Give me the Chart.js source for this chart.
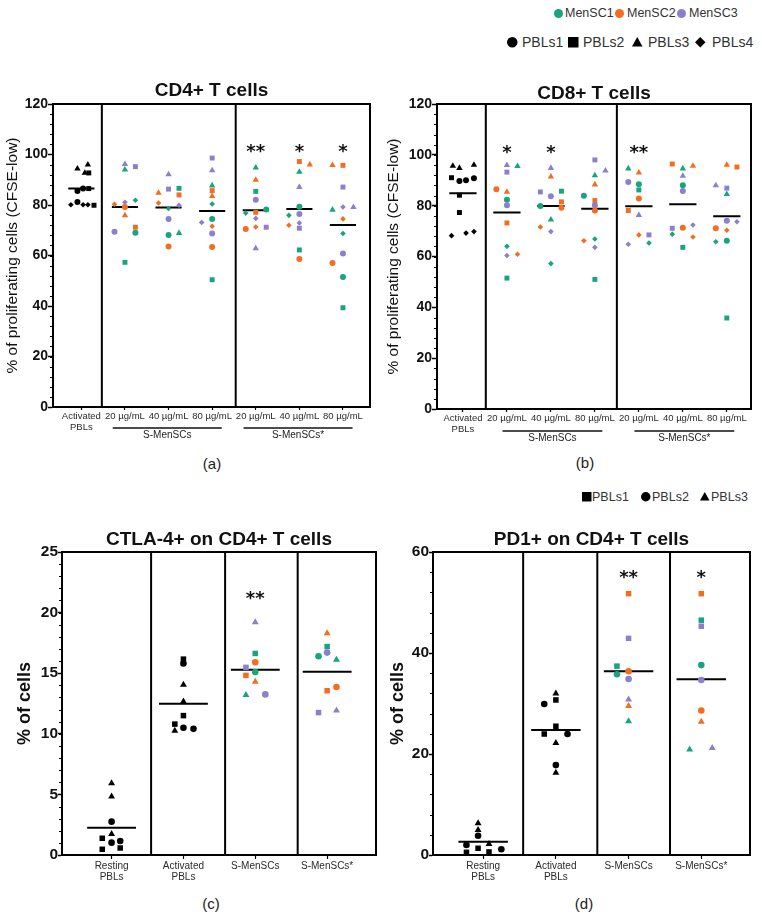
<!DOCTYPE html>
<html>
<head>
<meta charset="utf-8">
<title>MenSCs: proliferation and checkpoint markers</title>
<script src="https://cdn.jsdelivr.net/npm/chart.js@4.4.1/dist/chart.umd.min.js"></script>
<style>
  body { margin: 0; width: 762px; height: 917px; position: relative; overflow: hidden; background: #fff;
         font-family: "Liberation Sans", Arial, sans-serif; color: #222; }
  canvas { position: absolute; }
  .cap { position: absolute; font-size: 15px; transform: translate(-50%, -50%); }
  .leg { position: absolute; white-space: nowrap; color: #333; }
  svg.mk { position: absolute; overflow: visible; }
</style>
</head>
<body>
<canvas id="panelA" width="380" height="380" style="left:0;top:70px"></canvas>
<canvas id="panelB" width="382" height="380" style="left:380px;top:70px"></canvas>
<canvas id="panelC" width="380" height="380" style="left:0;top:510px"></canvas>
<canvas id="panelD" width="382" height="380" style="left:380px;top:510px"></canvas>
<div class="cap" style="left:212px;top:463px">(a)</div>
<div class="cap" style="left:585px;top:462px">(b)</div>
<div class="cap" style="left:211px;top:903px">(c)</div>
<div class="cap" style="left:584px;top:903px">(d)</div>
<div id="legends"></div>
<script>
/* global Chart */

const FONT = "'Liberation Sans', Arial, sans-serif";
const COLORS = { k: "#000000", t: "#17a47f", o: "#f36d21", p: "#8b80cc" };
const SHAPES = { c: "circle", s: "rect", t: "triangle", d: "rectRot" };

// legends
const mscLabels = ["MenSC1", "MenSC2", "MenSC3"];
const donorLabels = ["PBLs1", "PBLs2", "PBLs3", "PBLs4"];
const pd1DonorLabels = ["PBLs1", "PBLs2", "PBLs3"];

// (a) and (b): proliferation
const prolifGroups = ["Activated|PBLs", "20 µg/mL", "40 µg/mL", "80 µg/mL", "20 µg/mL", "40 µg/mL", "80 µg/mL"];
const prolifBrackets = [{ label: "S-MenSCs", from: 1, to: 3 }, { label: "S-MenSCs*", from: 4, to: 6 }];

// each point: [value, MenSC colour, donor shape, jitter (category units)]
const cd4Points = [
    [[94.4,"k","t",-0.09],[96.0,"k","t",0.15],[92.7,"k","t",0.08],[92.7,"k","s",0.17],[86.5,"k","s",0.17],[79.9,"k","s",0.29],
     [85.5,"k","c",-0.09],[86.5,"k","c",0.04],[81.2,"k","c",-0.09],[80.1,"k","d",-0.24],[80.1,"k","d",0.04],[80.1,"k","d",0.15]],
    [[96.2,"p","t",0],[94.0,"t","t",0],[95.2,"p","s",0.24],[80.3,"o","d",-0.24],[81.1,"p","d",0],[81.9,"t","d",0.24],
     [79.2,"o","c",0],[75.9,"o","t",0],[69.4,"p","c",-0.24],[71.2,"o","s",0.24],[69.0,"t","c",0.24],[57.3,"t","s",0]],
    [[92.1,"p","t",0],[84.8,"o","t",-0.23],[86.3,"p","s",0],[86.6,"t","s",0.24],[84.0,"o","s",0.24],[80.8,"o","d",-0.23],
     [79.9,"p","d",0.24],[78.6,"t","d",0],[74.5,"p","c",0],[68.1,"t","c",0],[68.9,"t","t",0.24],[63.6,"o","c",0]],
    [[98.6,"p","s",0],[93.7,"p","t",0],[87.7,"t","t",0],[85.7,"o","s",0],[83.5,"o","t",0],[80.4,"t","d",0],
     [73.1,"p","d",-0.24],[74.5,"t","c",0],[71.6,"o","d",0],[68.7,"p","c",0],[63.4,"o","c",0],[50.4,"t","s",0]],
    [[94.8,"t","t",0],[89.9,"o","t",0],[85.4,"t","s",0],[82.1,"p","c",0],[77.1,"o","s",0],[76.8,"t","d",-0.23],
     [78.2,"t","c",0.24],[71.2,"p","s",0.24],[74.7,"p","d",0],[71.3,"o","d",0],[70.5,"o","c",-0.23],[62.8,"p","t",0]],
    [[97.2,"o","s",0],[96.0,"o","t",0.24],[93.1,"t","t",0],[87.1,"p","t",0],[79.3,"t","c",0],[76.4,"p","c",0],
     [75.9,"t","d",-0.24],[72.9,"p","d",0],[72.0,"o","d",-0.24],[70.8,"p","s",0],[62.2,"t","s",0],[58.6,"o","c",0]],
    [[95.8,"o","t",-0.24],[95.7,"o","s",0],[87.1,"p","s",0],[78.1,"t","t",-0.24],[79.2,"p","d",0],[79.1,"p","t",0.24],
     [74.5,"o","d",0],[68.7,"t","d",0],[60.8,"p","c",0],[57.0,"o","c",-0.24],[51.5,"t","c",0],[39.3,"t","s",0]]
];
const cd4Median = [86.5, 79.2, 79.0, 77.6, 77.9, 78.4, 72.1];
const cd4Stars = ["", "", "", "", "**", "*", "*"];

const cd8Points = [
    [[95.6,"k","t",-0.23],[94.8,"k","t",-0.08],[96.0,"k","t",0.25],[91.0,"k","s",-0.26],[89.7,"k","c",-0.08],[90.0,"k","c",0.07],
     [90.8,"k","c",0.25],[84.1,"k","s",-0.08],[77.3,"k","s",-0.08],[68.2,"k","d",-0.26],[69.2,"k","d",0.07],[69.8,"k","d",0.25]],
    [[95.9,"p","t",0],[93.2,"p","s",0],[95.5,"t","t",0.24],[86.5,"o","c",-0.24],[85.4,"o","t",0],[82.3,"t","c",0],
     [80.2,"p","c",0],[73.2,"o","s",0],[64.0,"t","d",0],[60.4,"p","d",0],[60.9,"o","d",0.24],[51.5,"t","s",0]],
    [[94.8,"p","t",0],[91.4,"o","t",0],[85.4,"p","s",-0.24],[85.7,"t","s",0.24],[83.7,"p","c",0],[81.5,"o","s",0.24],
     [79.9,"t","c",-0.24],[79.2,"o","c",0.24],[74.5,"t","t",0],[71.6,"o","d",-0.24],[69.8,"p","d",0],[57.2,"t","d",0]],
    [[98.0,"p","s",0],[93.8,"p","t",0.24],[91.9,"t","t",0],[88.3,"o","t",0],[83.9,"t","c",-0.25],[82.0,"o","s",0],
     [80.2,"p","c",0],[78.1,"o","c",0],[66.2,"o","d",-0.25],[66.9,"t","d",0],[63.6,"p","d",0],[51.0,"t","s",0]],
    [[94.6,"t","t",-0.24],[93.0,"o","t",0],[89.3,"p","c",-0.24],[88.4,"t","c",0],[86.2,"t","s",0],[82.8,"o","c",0],
     [78.1,"o","s",-0.24],[76.3,"p","t",0],[68.5,"o","d",0],[68.5,"p","s",0.23],[64.8,"p","d",-0.24],[65.3,"t","d",0.23]],
    [[96.4,"o","s",-0.24],[94.6,"t","t",0],[95.6,"o","t",0.23],[91.7,"p","t",0],[88.0,"t","c",0],[85.8,"p","c",0],
     [71.1,"p","s",-0.24],[71.3,"o","c",0],[72.4,"p","d",0.23],[68.8,"t","d",-0.24],[67.7,"o","d",0.23],[63.6,"t","s",0]],
    [[96.0,"o","t",0],[95.2,"o","s",0.23],[88.0,"p","t",-0.25],[86.9,"p","s",0],[84.5,"t","t",0],[74.1,"p","c",0],
     [73.7,"p","d",0.23],[71.1,"o","c",-0.25],[70.3,"o","d",0],[65.8,"t","d",-0.25],[66.2,"t","c",0],[35.8,"t","s",0]]
];
const cd8Median = [84.9, 77.3, 79.9, 78.8, 79.8, 80.6, 75.8];
const cd8Stars = ["", "*", "*", "", "**", "", ""];

// (c) and (d): checkpoint markers
const markerGroups = ["Resting|PBLs", "Activated|PBLs", "S-MenSCs", "S-MenSCs*"];

const ctlaPoints = [
    [[5.93,"k","t",0],[4.82,"k","t",0],[2.75,"k","c",0],[1.74,"k","t",0],[1.38,"k","s",-0.13],[1.16,"k","c",0.12],
     [1.02,"k","c",0],[0.47,"k","s",-0.13],[0.58,"k","s",0.12]],
    [[16.16,"k","s",0],[15.8,"k","c",0],[14.05,"k","t",0],[12.67,"k","t",0],[11.5,"k","s",0],[10.8,"k","s",-0.12],
     [10.25,"k","t",-0.12],[10.5,"k","c",0],[10.41,"k","c",0.14]],
    [[19.2,"p","t",0],[16.63,"t","s",0],[15.9,"o","c",0],[15.48,"p","s",-0.13],[15.1,"t","c",0],[14.82,"o","s",-0.13],
     [14.3,"o","t",0],[13.2,"t","t",-0.13],[13.25,"p","c",0.14]],
    [[18.3,"o","t",0],[17.2,"t","s",0],[16.7,"p","c",0],[16.4,"t","c",-0.12],[16.1,"t","t",0.13],[13.86,"o","c",0.13],
     [13.55,"o","s",0],[11.75,"p","s",-0.12],[11.92,"p","t",0.13]]
];
const ctlaMedian = [2.25, 12.48, 15.29, 15.12];
const ctlaStars = ["", "", "**", ""];

const pd1Points = [
    [[6.28,"k","t",-0.07],[4.95,"k","t",-0.07],[3.82,"k","c",-0.07],[1.98,"k","c",-0.23],[2.18,"k","t",0.08],[1.33,"k","s",-0.07],
     [1.13,"k","c",0.25],[0.53,"k","s",-0.23],[0.6,"k","s",0.08]],
    [[32.0,"k","t",0],[30.7,"k","s",0],[29.9,"k","c",-0.16],[25.5,"k","s",0],[23.96,"k","s",-0.16],[23.96,"k","c",0.16],
     [22.2,"k","t",0],[17.8,"k","c",0],[16.3,"k","t",0]],
    [[51.75,"o","s",0],[42.9,"p","s",0],[37.4,"t","s",-0.16],[35.8,"t","c",-0.16],[36.4,"o","c",0],[34.85,"p","c",0],
     [30.8,"p","t",0],[29.5,"o","t",0],[26.5,"t","t",0]],
    [[51.75,"o","s",0],[46.5,"t","s",0],[45.3,"p","s",0],[37.6,"t","c",0],[34.65,"p","c",0],[28.6,"o","c",0],
     [26.4,"o","t",0],[20.9,"t","t",-0.16],[21.2,"p","t",0.15]]
];
const pd1Median = [2.64, 24.75, 36.4, 34.8];
const pd1Stars = ["", "", "**", "*"];

// frame, separators, minor ticks, significance stars and group brackets
const decor = {
    id: "decor",
    beforeDatasetsDraw(chart, args, o) {
        const { ctx, chartArea: a, scales: { x } } = chart;
        ctx.save();
        ctx.strokeStyle = "#000";
        ctx.lineWidth = 2;
        ctx.beginPath();
        ctx.moveTo(a.left, a.top);
        ctx.lineTo(a.right, a.top);
        ctx.lineTo(a.right, a.bottom);
        o.separators.forEach(v => {
            const px = x.getPixelForValue(v);
            ctx.moveTo(px, a.top);
            ctx.lineTo(px, a.bottom);
        });
        ctx.stroke();
        ctx.restore();
    },
    afterDraw(chart, args, o) {
        const { ctx, chartArea: a, scales: { x, y } } = chart;
        ctx.save();
        ctx.strokeStyle = "#000";
        ctx.lineWidth = 1;
        ctx.beginPath();
        for (let v = y.min; v <= y.max + 1e-9; v += o.minor) {
            const py = Math.round(y.getPixelForValue(v)) + 0.5;
            ctx.moveTo(a.left - 3, py);
            ctx.lineTo(a.left, py);
        }
        ctx.stroke();

        ctx.fillStyle = "#111";
        ctx.font = "bold 18px 'DejaVu Sans'";
        ctx.textAlign = "center";
        ctx.textBaseline = "middle";
        o.stars.forEach((s, i) => {
            if (s) ctx.fillText(s, x.getPixelForValue(i), y.getPixelForValue(o.starY) + 4);
        });

        (o.brackets || []).forEach(g => {
            const x1 = x.getPixelForValue(g.from - o.bracketPad[0]);
            const x2 = x.getPixelForValue(g.to + o.bracketPad[1]);
            const ly = a.bottom + o.bracketY;
            ctx.beginPath();
            ctx.lineWidth = 1.5;
            ctx.strokeStyle = "#111";
            ctx.moveTo(x1, ly);
            ctx.lineTo(x2, ly);
            ctx.stroke();
            ctx.font = "10px " + FONT;
            ctx.fillStyle = "#222";
            ctx.fillText(g.label, (x1 + x2) / 2, ly + 7.5);
        });
        ctx.restore();
    }
};

function makePanel(id, c) {
    const pts = [], styles = [], fills = [], radii = [];
    c.points.forEach((group, i) => group.forEach(([v, col, shp, j]) => {
        pts.push({ x: i + j, y: v });
        styles.push(SHAPES[shp]);
        fills.push(COLORS[col]);
        radii.push(c.radius[shp]);
    }));
    const med = [];
    c.median.forEach((m, i) => {
        med.push({ x: i - c.medHalf, y: m }, { x: i + c.medHalf, y: m }, { x: i, y: null });
    });

    return new Chart(document.getElementById(id), {
        type: "scatter",
        data: {
            datasets: [
                { type: "line", data: med, borderColor: "#000", borderWidth: 2, pointRadius: 0, spanGaps: false, order: 2 },
                { data: pts, pointStyle: styles, backgroundColor: fills, pointRadius: radii, borderWidth: 0, order: 1 }
            ]
        },
        options: {
            responsive: false,
            animation: false,
            devicePixelRatio: 1,
            events: [],
            layout: { padding: { left: 0, top: 0, right: c.padRight, bottom: c.padBottom } },
            plugins: {
                legend: { display: false },
                tooltip: { enabled: false },
                title: {
                    display: true, text: c.title, fullSize: false, color: "#111",
                    font: { family: FONT, size: 19, weight: "bold", lineHeight: 1 },
                    padding: { top: c.titlePad[0], bottom: c.titlePad[1] }
                },
                decor: {
                    separators: c.separators, minor: c.minor, stars: c.stars, starY: c.starY,
                    brackets: c.brackets, bracketPad: c.bracketPad, bracketY: c.bracketY
                }
            },
            scales: {
                x: {
                    type: "linear", min: c.xRange[0], max: c.xRange[1],
                    afterBuildTicks: s => { s.ticks = c.groups.map((g, i) => ({ value: i })); },
                    afterFit: s => { s.height = c.xHeight; },
                    ticks: {
                        autoSkip: false, maxRotation: 0, minRotation: 0, color: "#2a2a2a", padding: c.xTickPad,
                        font: { family: FONT, size: c.xFont, lineHeight: 1.12 },
                        callback: (v, i) => c.groups[i].split("|")
                    },
                    grid: { drawOnChartArea: false, color: "#000", tickLength: c.xTickLen, tickWidth: 1.2 },
                    border: { color: "#000", width: 2 }
                },
                y: {
                    min: 0, max: c.yMax,
                    afterFit: s => { s.width = c.yWidth; },
                    ticks: { stepSize: c.yStep, color: "#111", padding: 0, font: { family: FONT, size: c.yFont, weight: "bold" } },
                    grid: { drawOnChartArea: false, color: "#000", tickLength: c.yTickLen, tickWidth: 1.5 },
                    border: { color: "#000", width: 2 },
                    title: {
                        display: true, text: c.yTitle, color: "#111",
                        font: { family: FONT, size: c.yTitleFont, weight: c.yTitleWeight },
                        padding: { top: c.yTitlePad, bottom: 0 }
                    }
                }
            }
        },
        plugins: [decor]
    });
}

const smallMarks = { c: 3.0, s: 3.5, t: 3.7, d: 2.8 };
const bigMarks = { c: 3.3, s: 3.9, t: 4.0, d: 3.0 };

makePanel("panelA", {
    title: "CD4+ T cells", titlePad: [11, 4], groups: prolifGroups, points: cd4Points, median: cd4Median,
    stars: cd4Stars, starY: 102.5, medHalf: 0.3, radius: smallMarks, xRange: [-0.65, 6.62],
    separators: [0.47, 3.54], minor: 4, yMax: 120, yStep: 20, yWidth: 53, yTickLen: 5, yFont: 14,
    yTitle: "% of proliferating cells (CFSE-low)", yTitleFont: 15.5, yTitleWeight: "normal", yTitlePad: 3,
    xHeight: 26, xTickLen: 3, xTickPad: 1, xFont: 9.5, padRight: 10, padBottom: 17,
    brackets: prolifBrackets, bracketPad: [0.28, 0.22], bracketY: 21
});

makePanel("panelB", {
    title: "CD8+ T cells", titlePad: [14.5, 0.5], groups: prolifGroups, points: cd8Points, median: cd8Median,
    stars: cd8Stars, starY: 102, medHalf: 0.31, radius: smallMarks, xRange: [-0.59, 6.55],
    separators: [0.52, 3.5], minor: 4, yMax: 120, yStep: 20, yWidth: 57, yTickLen: 5, yFont: 14,
    yTitle: "% of proliferating cells (CFSE-low)", yTitleFont: 15.5, yTitleWeight: "normal", yTitlePad: 4,
    xHeight: 26, xTickLen: 3, xTickPad: 1, xFont: 9.5, padRight: 11, padBottom: 15,
    brackets: prolifBrackets, bracketPad: [0.1, 0.17], bracketY: 22
});

makePanel("panelC", {
    title: "CTLA-4+ on CD4+ T cells", titlePad: [20.5, 2.5], groups: markerGroups, points: ctlaPoints, median: ctlaMedian,
    stars: ctlaStars, starY: 21.4, medHalf: 0.34, radius: bigMarks, xRange: [-0.69, 3.68],
    separators: [0.55, 1.58, 2.59], minor: 1, yMax: 25, yStep: 5, yWidth: 62, yTickLen: 4, yFont: 15.5,
    yTitle: "% of cells", yTitleFont: 18, yTitleWeight: "bold", yTitlePad: 14,
    xHeight: 28, xTickLen: 4, xTickPad: 1.5, xFont: 10, padRight: 2, padBottom: 7
});

makePanel("panelD", {
    title: "PD1+ on CD4+ T cells", titlePad: [20.5, 2.5], groups: markerGroups, points: pd1Points, median: pd1Median,
    stars: pd1Stars, starY: 55.6, medHalf: 0.34, radius: bigMarks, xRange: [-0.69, 3.67],
    separators: [0.55, 1.57, 2.57], minor: 4, yMax: 60, yStep: 20, yWidth: 53, yTickLen: 4, yFont: 15.5,
    yTitle: "% of cells", yTitleFont: 18, yTitleWeight: "bold", yTitlePad: 7,
    xHeight: 28, xTickLen: 4, xTickPad: 1.5, xFont: 10, padRight: 12, padBottom: 7
});

// HTML legends
function shapeSvg(shape, color, s) {
    if (shape === "c") return `<circle cx="${s / 2}" cy="${s / 2}" r="${s / 2}" fill="${color}"/>`;
    if (shape === "s") return `<rect width="${s}" height="${s}" fill="${color}"/>`;
    if (shape === "t") return `<polygon points="${s / 2},0 ${s},${s * 0.9} 0,${s * 0.9}" fill="${color}"/>`;
    return `<polygon points="${s / 2},0 ${s},${s / 2} ${s / 2},${s} 0,${s / 2}" fill="${color}"/>`;
}

function addLegend(labels, shapes, colors, markerX, textX, y, size, fontSize) {
    const host = document.getElementById("legends");
    labels.forEach((lab, i) => {
        host.insertAdjacentHTML("beforeend",
            `<svg class="mk" style="left:${markerX[i] - size / 2}px;top:${y - size / 2}px" width="${size}" height="${size}">` +
            shapeSvg(shapes[i], colors[i], size) + `</svg>` +
            `<div class="leg" style="left:${textX[i]}px;top:${y - fontSize * 0.6}px;font-size:${fontSize}px;line-height:${fontSize * 1.2}px">${lab}</div>`);
    });
}

addLegend(mscLabels, ["c", "c", "c"], [COLORS.t, COLORS.o, COLORS.p], [558, 619, 681], [565, 627, 689], 13, 9, 12.5);
addLegend(donorLabels, ["c", "s", "t", "d"], ["#000", "#000", "#000", "#000"], [512, 573, 637, 700], [522, 583, 648, 712], 42, 10.5, 14);
addLegend(pd1DonorLabels, ["s", "c", "t"], ["#000", "#000", "#000"], [587, 646, 705], [592, 652, 711], 497, 9.5, 12.5);
</script>
</body>
</html>
